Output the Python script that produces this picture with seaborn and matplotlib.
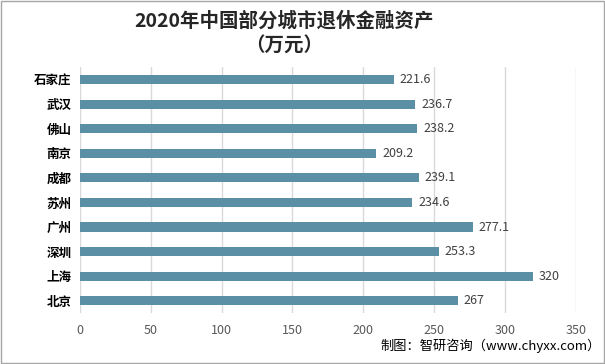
import matplotlib
matplotlib.use("Agg")
import matplotlib.pyplot as plt
import seaborn as sns
import pandas as pd

cities = ["石家庄", "武汉", "佛山", "南京", "成都", "苏州", "广州", "深圳", "上海", "北京"]
values = [221.6, 236.7, 238.2, 209.2, 239.1, 234.6, 277.1, 253.3, 320, 267]
value_labels = ["221.6", "236.7", "238.2", "209.2", "239.1", "234.6", "277.1", "253.3", "320", "267"]
xticks = [0, 50, 100, 150, 200, 250, 300, 350]
title = "2020年中国部分城市退休金融资产\n（万元）"
footer = "制图：智研咨询（www.chyxx.com）"

sns.set_theme(style="white")
plt.rcParams['font.family'] = ['Noto Sans CJK SC', 'DejaVu Sans']

df = pd.DataFrame({"city": cities, "value": values})

fig = plt.figure(figsize=(6.05, 3.64), dpi=100)
ax = fig.add_axes([0.132, 0.14, 0.82, 0.675])

sns.barplot(data=df, y="city", x="value", orient="h", color="#5b8fa6",
            width=0.37, saturation=1, ax=ax, edgecolor="none")

ax.set_xlim(0, 350)
ax.set_xticks(xticks)
ax.set_xticklabels([str(t) for t in xticks], color="#595959", fontsize=9)
ax.tick_params(axis="x", length=0, pad=8)
ax.tick_params(axis="y", length=0, pad=6)
for lbl in ax.get_yticklabels():
    lbl.set_fontweight("bold")
    lbl.set_fontsize(9)
    lbl.set_color("#000000")
ax.set_xlabel("")
ax.set_ylabel("")
ax.xaxis.grid(True, color="#d9d9d9", linewidth=1)
ax.set_axisbelow(True)
for s in ax.spines.values():
    s.set_visible(False)

for i, (v, t) in enumerate(zip(values, value_labels)):
    ax.text(v + 4, i, t, va="center", ha="left", fontsize=9, color="#404040")

fig.text(0.47, 0.97, title, ha="center", va="top", fontsize=14,
         fontweight="bold", color="#262626", linespacing=1.45)
fig.text(0.993, 0.03, footer, ha="right", va="bottom", fontsize=9.5, color="#000000")

fig.patches.append(plt.Rectangle((0.001, 0.002), 0.997, 0.995, transform=fig.transFigure,
                                 fill=False, edgecolor="#a6a6a6", linewidth=1))

fig.savefig("out.png", dpi=100, facecolor="white")
